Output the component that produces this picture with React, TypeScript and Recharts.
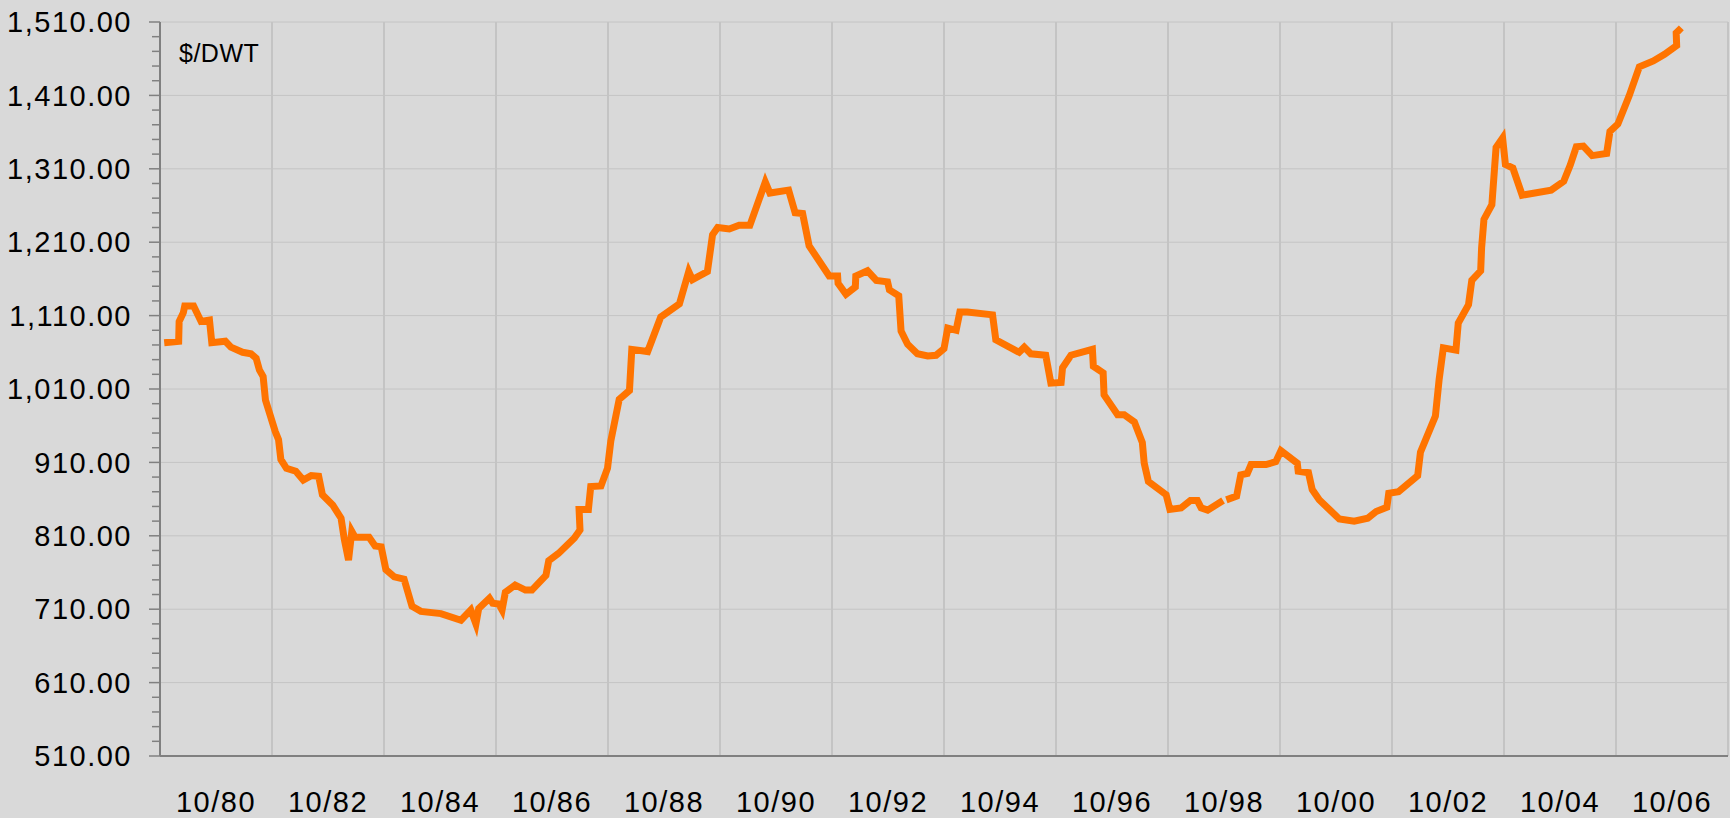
import { LineChart, Line, XAxis, YAxis, CartesianGrid } from 'recharts'

// x = months since 10/79, y = price in $/DWT
const months = [
  0.9, 4.0, 4.1, 5.0, 5.3, 7.2, 8.8, 10.6, 11.1, 14.0, 15.2, 17.7, 19.5, 20.6, 21.3, 22.1, 22.6,
  24.7, 25.4, 25.9, 27.1, 29.1, 30.7, 32.4, 34.0, 34.8, 37.0, 38.8, 39.5, 40.4, 41.1, 41.8, 44.8,
  46.1, 47.4, 48.4, 50.2, 52.3, 54.0, 55.9, 60.2, 64.5, 66.6, 67.7, 68.3, 70.6, 71.3, 72.6, 73.3,
  74.0, 76.1, 78.3, 79.7, 82.7, 83.3, 85.4, 88.8, 90.0, 89.8, 91.8, 92.3, 94.5, 95.9, 96.6, 98.4,
  100.6, 101.1, 104.5, 107.3, 111.3, 113.3, 114.1, 117.3, 118.4, 119.5, 122.0, 124.1, 126.4, 129.7,
  130.7, 134.7, 136.1, 137.7, 139.1, 143.4, 145.2, 145.3, 147.0, 149.0, 149.1, 151.6, 153.5, 155.9,
  156.3, 158.3, 158.8, 160.2, 162.3, 164.5, 166.3, 168.0, 168.8, 170.6, 171.4, 173.0, 178.4, 179.1,
  184.1, 185.2, 186.6, 189.8, 190.9, 193.1, 193.4, 195.2, 199.8, 200.0, 202.1, 202.3, 205.2, 206.6,
  208.8, 210.5, 210.9, 211.8, 215.6, 216.4, 218.8, 220.8, 222.3, 223.1, 224.5, 227.8, 228.1, 228.5,
  230.7, 231.6, 233.0, 233.8, 237.0, 239.1, 240.2, 243.7, 243.9, 246.1, 246.9, 248.4, 252.7, 255.9,
  258.8, 260.6, 262.9, 263.3, 265.4, 269.5, 270.1, 273.3, 274.1, 275.0, 277.7, 278.2, 280.4, 281.1,
  283.0, 283.2, 283.7, 285.4, 286.3, 287.7, 288.3, 289.9, 291.9, 298.1, 300.8, 302.2, 303.5, 305.0,
  306.9, 310.0, 310.7, 312.4, 314.8, 317.0, 320.0, 322.4, 325.0, 324.9, 326.0,
]

const prices: (number | null)[] = [
  1073, 1075, 1102, 1114, 1123, 1123, 1102, 1104, 1073, 1075, 1067, 1060, 1058, 1052, 1036, 1027, 995,
  952, 941, 914, 902, 898, 886, 892, 891, 866, 852, 834, 805, 777, 816, 808, 808,
  796, 795, 764, 754, 751, 714, 707, 704, 695, 709, 690, 711, 725, 718, 717, 709,
  733, 743, 736, 736, 756, 776, 786, 807, 818, 846, 846, 877, 878, 902, 939, 996,
  1008, 1064, 1061, 1108, 1126, 1170, 1159, 1170, 1220, 1230, 1228, 1233, 1233, 1292,
  1277, 1281, 1250, 1249, 1205, 1164, 1164, 1154, 1139, 1149, 1164, 1171, 1158, 1156,
  1145, 1137, 1089, 1071, 1058, 1055, 1056, 1065, 1093, 1090, 1115, 1115, 1111, 1077,
  1060, 1067, 1058, 1056, 1018, 1019, 1039, 1056, 1064, 1041, 1032, 1002, 975, 975,
  965, 937, 909, 884, 866, 846, 848, 858, 858, 848, 845, 858, null, 859,
  864, 893, 895, 907, 907, 911, 926, 909, 898, 896, 873, 859, 833, 830,
  834, 843, 849, 868, 870, 892, 924, 973, 1023, 1066, 1063, 1100, 1125, 1158,
  1171, 1202, 1241, 1261, 1339, 1352, 1316, 1311, 1274, 1281, 1293, 1315, 1340, 1341,
  1328, 1331, 1361, 1371, 1409, 1449, 1457, 1466, 1478, 1495, 1502,
]

const labelMonths = [12, 36, 60, 84, 108, 132, 156, 180, 204, 228, 252, 276, 300, 324]
const gridMonths = [24, 48, 72, 96, 120, 144, 168, 192, 216, 240, 264, 288, 312, 336]
const majorTicks = [510, 610, 710, 810, 910, 1010, 1110, 1210, 1310, 1410, 1510]
const allTicks = Array.from({ length: 51 }, (_, i) => 510 + i * 20)

const data = months.map((m, i) => ({ m, price: prices[i] }))

const FONT = '"Liberation Sans", Arial, sans-serif'
const AXIS = '#808080'

const monthLabel = (m: number) => {
  const yr = Math.floor(1979 + (m + 9) / 12) % 100
  return `10/${String(yr).padStart(2, '0')}`
}

const fmt = (v: number) =>
  v.toLocaleString('en-US', { minimumFractionDigits: 2, maximumFractionDigits: 2 })

function YTick(props: any) {
  const { x, y, payload } = props
  const v = payload.value
  const major = (v - 510) % 100 === 0
  return (
    <g>
      <line x1={x - (major ? 11 : 8)} x2={x} y1={y} y2={y} stroke={AXIS} strokeWidth={1.5} />
      {major && (
        <text
          x={x - 28}
          y={y}
          dy="0.355em"
          textAnchor="end"
          fill="#000"
          fontSize={29}
          fontFamily={FONT}
          letterSpacing={1.5}
        >
          {fmt(v)}
        </text>
      )}
    </g>
  )
}

export default function App() {
  return (
    <div
      style={{
        position: 'absolute',
        left: 0,
        top: 0,
        width: 1730,
        height: 818,
        background: '#d9d9d9',
      }}
    >
      <LineChart
        width={1730}
        height={818}
        data={data}
        margin={{ top: 22, right: 2, bottom: 0, left: 0 }}
      >
        <CartesianGrid
          vertical={false}
          horizontalValues={majorTicks}
          stroke="#c4c4c4"
          strokeWidth={1}
        />
        <CartesianGrid
          horizontal={false}
          verticalValues={gridMonths}
          stroke="#c4c4c4"
          strokeWidth={2}
        />
        <XAxis
          dataKey="m"
          type="number"
          domain={[0, 336]}
          ticks={labelMonths}
          interval={0}
          tickFormatter={monthLabel}
          tickLine={false}
          tickSize={0}
          tickMargin={35}
          height={62}
          axisLine={{ stroke: AXIS, strokeWidth: 2 }}
          tick={{ fill: '#000', fontSize: 29, fontFamily: FONT, letterSpacing: 1.5 }}
        />
        <YAxis
          type="number"
          domain={[510, 1510]}
          ticks={allTicks}
          interval={0}
          width={160}
          tickSize={0}
          tickMargin={0}
          tickLine={false}
          axisLine={{ stroke: AXIS, strokeWidth: 2 }}
          tick={YTick}
        />
        <Line
          type="linear"
          dataKey="price"
          stroke="#ff7400"
          strokeWidth={7}
          dot={false}
          activeDot={false}
          connectNulls={false}
          isAnimationActive={false}
        />
      </LineChart>
      <div
        style={{
          position: 'absolute',
          left: 179,
          top: 41,
          fontFamily: FONT,
          fontSize: 25,
          lineHeight: 1,
          color: '#000',
          letterSpacing: 0.5,
        }}
      >
        $/DWT
      </div>
    </div>
  )
}
